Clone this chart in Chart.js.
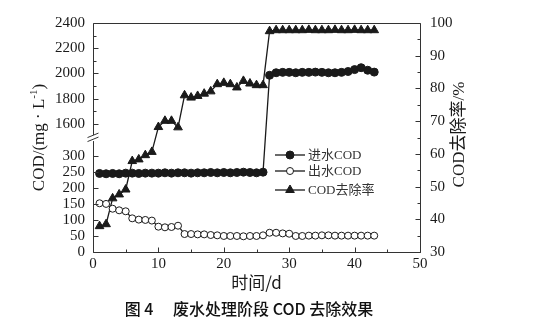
<!DOCTYPE html>
<html>
<head>
<meta charset="utf-8">
<script src="https://cdn.jsdelivr.net/npm/chart.js@4/dist/chart.umd.min.js"></script>
<style>
  html, body { margin: 0; padding: 0; background: #fff; }
  #wrap { width: 539px; height: 324px; position: relative; }
</style>
</head>
<body>
<div id="wrap"><canvas id="c" width="539" height="324"></canvas></div>
<script>
// Operating day of the wastewater treatment stage
const days = [1, 2, 3, 4, 5, 6, 7, 8, 9, 10, 11, 12, 13, 14, 15, 16, 17, 18, 19, 20, 21,
  22, 23, 24, 25, 26, 27, 28, 29, 30, 31, 32, 33, 34, 35, 36, 37, 38, 39, 40, 41, 42, 43];

// Influent COD, mg/L
const influentCOD = [245, 244, 245, 244, 246, 246, 245, 246, 246, 246, 247, 246, 247, 247,
  246, 247, 247, 248, 247, 248, 247, 248, 249, 248, 247, 249,
  1985, 2005, 2008, 2008, 2005, 2008, 2008, 2010, 2008, 2005, 2005, 2008, 2015, 2030, 2045, 2025, 2010];

// Effluent COD, mg/L
const effluentCOD = [152, 150, 135, 130, 127, 105, 101, 100, 98, 79, 77, 78, 82, 56, 56, 55,
  55, 53, 52, 50, 50, 50, 49, 50, 50, 52, 60, 60, 58, 57, 50, 50, 51, 51, 52, 52, 51, 51,
  51, 51, 51, 51, 51];

// COD removal rate, %
const removalRate = [37.9, 38.5, 46.4, 47.6, 49.1, 57.8, 58.3, 59.6, 60.6, 68.2, 70.1, 70.1,
  68.1, 77.9, 77.2, 77.7, 78.4, 79.1, 81.3, 81.7, 81.3, 80.3, 82.3, 81.5, 81.0, 81.0,
  97.5, 97.8, 97.8, 97.8, 97.8, 97.8, 97.9, 97.8, 97.8, 97.8, 97.9, 97.8, 97.8, 97.9, 97.8, 97.8, 97.8];

const seriesNames = ['进水COD', '出水COD', 'COD去除率'];

// Axis ticks
const xMajorTicks = [0, 10, 20, 30, 40, 50];
const xMinorTicks = [5, 15, 25, 35, 45];
const codTicksLow = [0, 50, 100, 150, 200, 250, 300];
const codTicksHigh = [1600, 1800, 2000, 2200, 2400];
const codMinorTicks = [1700, 1900, 2100, 2300];
const rateMajorTicks = [30, 40, 50, 60, 70, 80, 90, 100];
const rateMinorTicks = [35, 45, 55, 65, 75, 85, 95];

// The COD axis is broken into a low and a high segment
const codLowRange = [0, 350];
const codHighRange = [1500, 2400];
const LOW_SPAN = 0.49;      // fraction of the axis height used by the low segment
const HIGH_START = 0.505;   // fraction where the high segment begins

class BrokenLinearScale extends Chart.LinearScale {
  determineDataLimits() {
    this.min = codLowRange[0];
    this.max = codHighRange[1];
  }
  buildTicks() {
    return codTicksLow.concat(codTicksHigh).map(v => ({ value: v }));
  }
  valueToDecimal(v) {
    const [l0, l1] = codLowRange, [h0, h1] = codHighRange;
    if (v <= l1) return (v - l0) / (l1 - l0) * LOW_SPAN;
    if (v >= h0) return HIGH_START + (v - h0) / (h1 - h0) * (1 - HIGH_START);
    return LOW_SPAN + (v - l1) / (h0 - l1) * (HIGH_START - LOW_SPAN);
  }
  getPixelForValue(v) {
    if (v === null || v === undefined) return NaN;
    return this.getPixelForDecimal(this.valueToDecimal(v));
  }
  getValueForPixel(p) {
    const d = this.getDecimalForPixel(p);
    const [l0, l1] = codLowRange, [h0, h1] = codHighRange;
    if (d <= LOW_SPAN) return l0 + d / LOW_SPAN * (l1 - l0);
    if (d >= HIGH_START) return h0 + (d - HIGH_START) / (1 - HIGH_START) * (h1 - h0);
    return l1 + (d - LOW_SPAN) / (HIGH_START - LOW_SPAN) * (h0 - l1);
  }
}
BrokenLinearScale.id = 'brokenLinear';
BrokenLinearScale.defaults = Chart.LinearScale.defaults;
Chart.register(BrokenLinearScale);

const INK = '#1a1a1a';
const tickFont = { family: '"Liberation Serif", "Times New Roman", serif', size: 15 };

const toPoints = arr => days.map((d, i) => ({ x: d, y: arr[i] }));

const datasets = [
  {
    label: seriesNames[0], data: toPoints(influentCOD), yAxisID: 'y',
    borderColor: INK, borderWidth: 1.3,
    pointStyle: 'circle', pointRadius: 4, pointBorderWidth: 1,
    pointBackgroundColor: INK, pointBorderColor: INK
  },
  {
    label: seriesNames[1], data: toPoints(effluentCOD), yAxisID: 'y',
    borderColor: INK, borderWidth: 1.3,
    pointStyle: 'circle', pointRadius: 3.5, pointBorderWidth: 1,
    pointBackgroundColor: '#fff', pointBorderColor: INK
  },
  {
    label: seriesNames[2], data: toPoints(removalRate), yAxisID: 'y2',
    borderColor: INK, borderWidth: 1.3,
    pointStyle: 'triangle', pointRadius: 5, pointBorderWidth: 1,
    pointBackgroundColor: INK, pointBorderColor: INK
  }
];

// Frame, axis break, inward tick marks, legend and rotated titles
const decorations = {
  id: 'decorations',
  afterDraw(chart) {
    const { ctx, chartArea: a, scales } = chart;
    const L = Math.round(a.left) + 0.5, R = Math.round(a.right) + 0.5;
    const T = Math.round(a.top) + 0.5, B = Math.round(a.bottom) + 0.5;
    const yS = scales.y, y2S = scales.y2, xS = scales.x;
    const breakY = (yS.getPixelForValue(codLowRange[1]) + yS.getPixelForValue(codHighRange[0])) / 2;

    ctx.save();
    ctx.strokeStyle = '#333';
    ctx.lineWidth = 1;
    ctx.beginPath();
    ctx.moveTo(L, B); ctx.lineTo(R, B); ctx.lineTo(R, T); ctx.lineTo(L, T);
    ctx.lineTo(L, breakY - 3);
    ctx.moveTo(L, breakY + 3); ctx.lineTo(L, B);
    ctx.stroke();

    // break marks
    ctx.beginPath();
    ctx.moveTo(L - 6, breakY - 0.5); ctx.lineTo(L + 5, breakY - 5);
    ctx.moveTo(L - 6, breakY + 3.5); ctx.lineTo(L + 5, breakY - 1);
    ctx.stroke();

    // inward ticks
    const tick = (x1, y1, x2, y2) => { ctx.moveTo(x1, y1); ctx.lineTo(x2, y2); };
    ctx.beginPath();
    xMajorTicks.forEach(v => { const x = Math.round(xS.getPixelForValue(v)) + 0.5; tick(x, B, x, B - 5); });
    xMinorTicks.forEach(v => { const x = Math.round(xS.getPixelForValue(v)) + 0.5; tick(x, B, x, B - 3); });
    codTicksLow.concat(codTicksHigh).forEach(v => { const y = Math.round(yS.getPixelForValue(v)) + 0.5; tick(L, y, L + 5, y); });
    codMinorTicks.forEach(v => { const y = Math.round(yS.getPixelForValue(v)) + 0.5; tick(L, y, L + 3, y); });
    rateMajorTicks.forEach(v => { const y = Math.round(y2S.getPixelForValue(v)) + 0.5; tick(R, y, R - 5, y); });
    rateMinorTicks.forEach(v => { const y = Math.round(y2S.getPixelForValue(v)) + 0.5; tick(R, y, R - 3, y); });
    ctx.stroke();

    // legend
    const rows = [155, 171, 190];
    ctx.font = '13px "Liberation Serif", "Noto Sans CJK SC", serif';
    ctx.textBaseline = 'middle';
    ctx.textAlign = 'left';
    chart.data.datasets.forEach((ds, i) => {
      const y = rows[i];
      ctx.strokeStyle = INK; ctx.lineWidth = 1.3;
      ctx.beginPath(); ctx.moveTo(275, y); ctx.lineTo(305, y); ctx.stroke();
      ctx.fillStyle = ds.pointBackgroundColor;
      ctx.strokeStyle = ds.pointBorderColor;
      ctx.lineWidth = ds.pointBorderWidth;
      Chart.helpers.drawPoint(ctx, { pointStyle: ds.pointStyle, radius: ds.pointRadius, rotation: 0, borderWidth: ds.pointBorderWidth }, 290, y);
      ctx.fillStyle = '#333';
      ctx.fillText(ds.label, 308, y + 1);
    });

    // left axis title with superscript
    ctx.fillStyle = INK;
    ctx.translate(40, (a.top + a.bottom) / 2);
    ctx.rotate(-Math.PI / 2);
    const big = '17px "Liberation Serif", "Times New Roman", serif';
    const small = '11px "Liberation Serif", "Times New Roman", serif';
    const p1 = 'COD/(mg · L', p2 = '-1', p3 = ')';
    ctx.font = big; const w1 = ctx.measureText(p1).width, w3 = ctx.measureText(p3).width;
    ctx.font = small; const w2 = ctx.measureText(p2).width;
    let sx = -(w1 + w2 + w3) / 2;
    ctx.textBaseline = 'middle';
    ctx.font = big; ctx.fillText(p1, sx, 0); sx += w1;
    ctx.font = small; ctx.fillText(p2, sx, -6); sx += w2;
    ctx.font = big; ctx.fillText(p3, sx, 0);
    ctx.restore();

    // right axis title
    ctx.save();
    ctx.fillStyle = INK;
    ctx.translate(460, (a.top + a.bottom) / 2 - 3);
    ctx.rotate(-Math.PI / 2);
    ctx.font = '17px "Liberation Serif", "Noto Sans CJK SC", serif';
    ctx.textAlign = 'center';
    ctx.textBaseline = 'middle';
    ctx.fillText('COD去除率/%', 0, 0);
    ctx.restore();

    // figure caption
    ctx.save();
    ctx.fillStyle = '#111';
    ctx.font = '500 16px "Noto Sans CJK SC", sans-serif';
    ctx.textAlign = 'center';
    ctx.textBaseline = 'middle';
    ctx.fillText('图 4　 废水处理阶段 COD 去除效果', 249, 309);
    ctx.restore();
  }
};

new Chart(document.getElementById('c'), {
  type: 'line',
  data: { datasets },
  options: {
    responsive: false,
    animation: false,
    events: [],
    layout: { padding: { top: 23, left: 0, right: 0, bottom: 0 } },
    elements: { line: { tension: 0 } },
    plugins: { legend: { display: false }, tooltip: { enabled: false } },
    scales: {
      x: {
        type: 'linear', min: 0, max: 50,
        ticks: { stepSize: 10, color: INK, font: tickFont, padding: 3, callback: v => String(v) },
        grid: { display: false, drawTicks: false },
        border: { display: false },
        title: {
          display: true, text: '时间/d', color: INK,
          font: { family: '"Noto Sans CJK SC", sans-serif', size: 17 },
          padding: { top: 0, bottom: 31 }
        },
        afterFit: s => { s.height = 72; }
      },
      y: {
        type: 'brokenLinear', position: 'left',
        ticks: { color: INK, font: tickFont, padding: 8, autoSkip: false, callback: v => String(v) },
        grid: { display: false, drawTicks: false },
        border: { display: false },
        afterFit: s => { s.width = 93; }
      },
      y2: {
        type: 'linear', position: 'right', min: 30, max: 100,
        ticks: { stepSize: 10, color: INK, font: tickFont, padding: 10, callback: v => String(v) },
        grid: { display: false, drawTicks: false },
        border: { display: false },
        afterFit: s => { s.width = 119; }
      }
    }
  },
  plugins: [decorations]
});
</script>
</body>
</html>
